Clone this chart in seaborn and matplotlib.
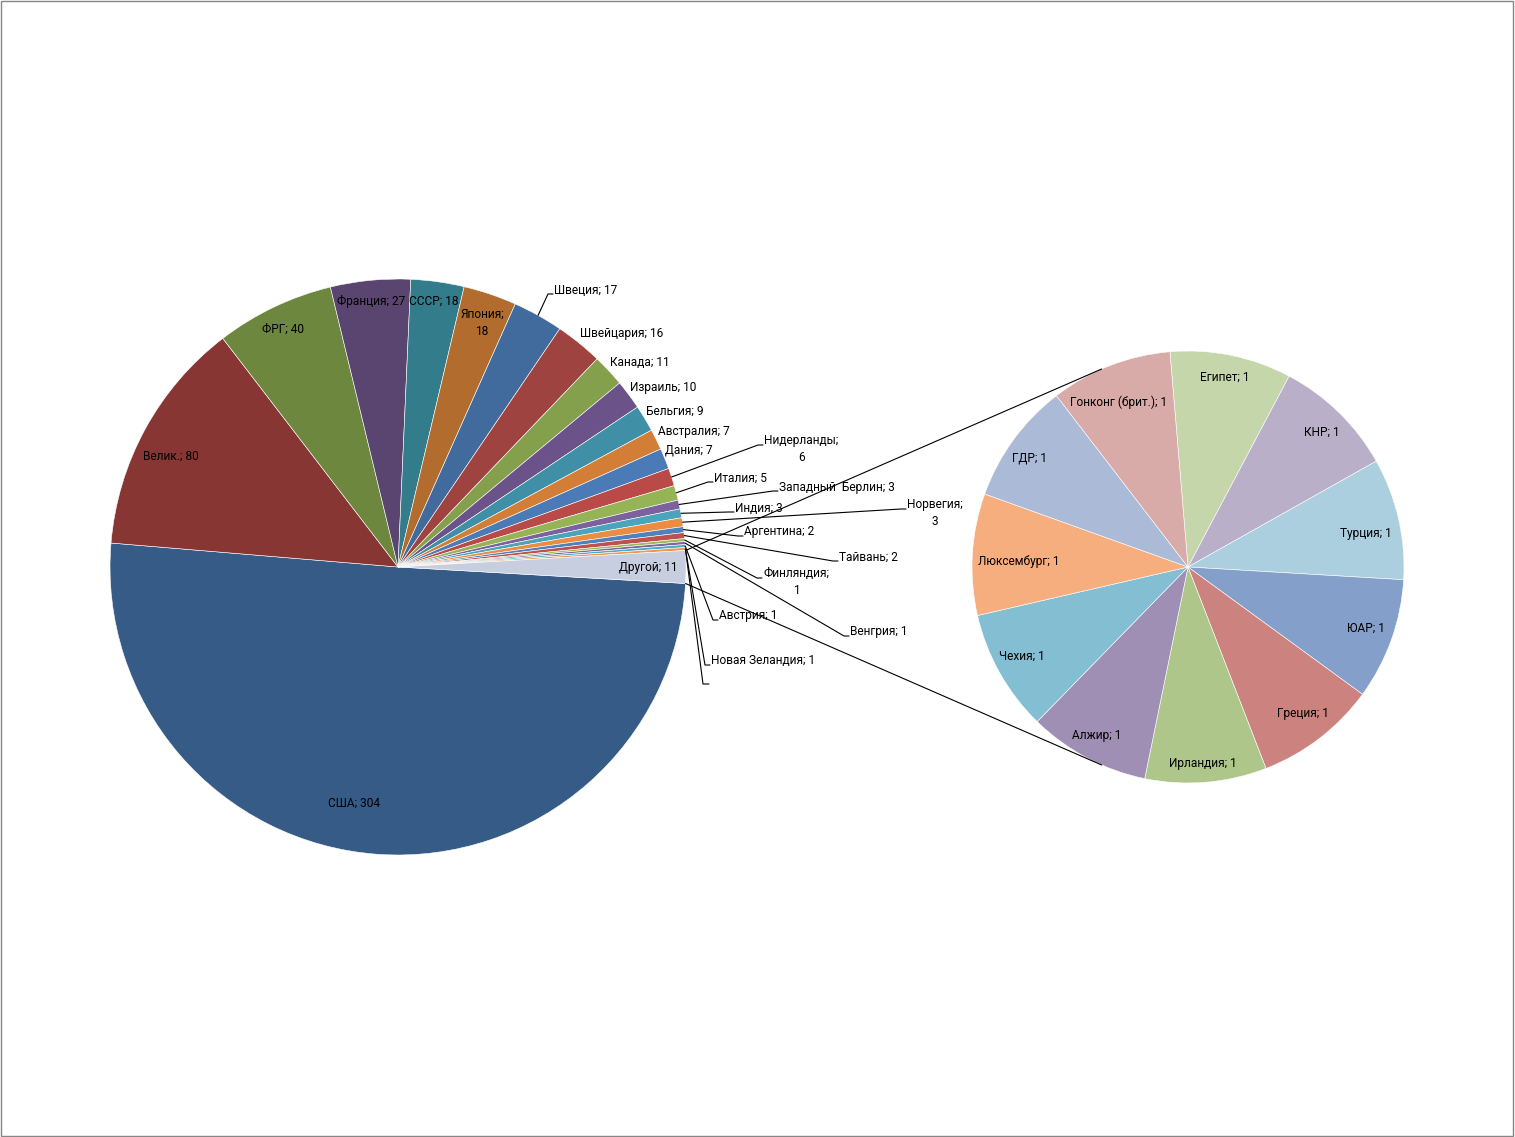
import numpy as np
import matplotlib
matplotlib.use("Agg")
import matplotlib.pyplot as plt
import seaborn as sns

# main pie data
main_names = ['США', 'Велик.', 'ФРГ', 'Франция', 'СССР', 'Япония', 'Швеция', 'Швейцария',
              'Канада', 'Израиль', 'Бельгия', 'Австралия', 'Дания', 'Нидерланды', 'Италия',
              'Западный  Берлин', 'Индия', 'Норвегия', 'Аргентина', 'Тайвань', 'Финляндия',
              'Венгрия', 'Австрия', 'Новая Зеландия', 'Другой']
main_values = [304, 80, 40, 27, 18, 18, 17, 16, 11, 10, 9, 7, 7, 6, 5, 3, 3, 3, 2, 2, 1, 1, 1, 1, 11]

# secondary pie ("Другой" split)
other_names = ['Египет', 'КНР', 'Турция', 'ЮАР', 'Греция', 'Ирландия', 'Алжир', 'Чехия',
               'Люксембург', 'ГДР', 'Гонконг (брит.)']
other_values = [1, 1, 1, 1, 1, 1, 1, 1, 1, 1, 1]

main_colors = ['#365B86', '#873634', '#6D883E', '#5A4570', '#327C8C', '#B26C2E',
               '#426B9D', '#9F4341', '#84A04C', '#6B5289', '#3F90A6', '#D27E37',
               '#4B7BB6', '#B94A47', '#95B456', '#7D619D', '#49A4BC', '#EB8D41',
               '#4F81BD', '#C0504D', '#9BBB59', '#8064A2', '#4BACC6', '#F79646',
               '#C6CEE0']
other_colors = ['#C5D6AB', '#B9AFC9', '#ABCFDE', '#849FCA', '#CC827F', '#AFC68A',
                '#9F8FB4', '#83BED2', '#F6AE7F', '#ABBAD6', '#D8AAA8']

W, H = 1515, 1137
main_c, main_r = (398, H - 567), 288
sec_c, sec_r = (1188, H - 567), 216

# label layout (image px): name -> (x, y, mode); mode 'c' centred inside, 'l' left-anchored outside,
# 'L' left-anchored with leader line
main_lab = {
    'США': (354, 803, 'c'), 'Велик.': (171, 456, 'c'), 'ФРГ': (283, 329, 'c'),
    'Франция': (371, 301, 'c'), 'СССР': (434, 301, 'c'), 'Япония': (482, 315, 'c2'),
    'Швеция': (554, 290, 'L'), 'Швейцария': (580, 334, 'l'), 'Канада': (610, 362, 'l'),
    'Израиль': (630, 387, 'l'), 'Бельгия': (646, 411, 'l'), 'Австралия': (658, 432, 'l'),
    'Дания': (665, 450, 'l'), 'Нидерланды': (764, 441, 'L2'), 'Италия': (714, 478, 'L'),
    'Западный  Берлин': (779, 487, 'L'), 'Индия': (735, 508, 'L'), 'Норвегия': (907, 505, 'L2'),
    'Аргентина': (744, 532, 'L'), 'Тайвань': (839, 557, 'L'), 'Финляндия': (763, 574, 'L2'),
    'Венгрия': (850, 632, 'L'), 'Австрия': (719, 616, 'L'), 'Новая Зеландия': (711, 661, 'L'),
    'Другой': (648, 568, 'c'),
}
other_lab = [(1225, 377), (1322, 432), (1366, 533), (1366, 628), (1303, 714), (1203, 763),
             (1097, 735), (1022, 656), (1019, 561), (1030, 458), (1119, 402)]

sns.set_theme(style="white")
plt.rcParams['font.family'] = ['Roboto', 'DejaVu Sans']
FS = 8.6

fig = plt.figure(figsize=(W / 100, H / 100), dpi=100)
ax = fig.add_axes([0, 0, 1, 1])

total = sum(main_values)
start = -main_values[-1] / total * 180
wedges, _ = ax.pie(main_values, colors=main_colors, startangle=start, counterclock=False,
                   center=main_c, radius=main_r,
                   wedgeprops=dict(edgecolor='white', linewidth=0.4))
ax.pie(other_values, colors=other_colors, startangle=94.8, counterclock=False,
       center=sec_c, radius=sec_r, wedgeprops=dict(edgecolor='white', linewidth=0.4))


def edge_point(w, frac=1.0):
    a = np.deg2rad((w.theta1 + w.theta2) / 2)
    return main_c[0] + main_r * frac * np.cos(a), main_c[1] + main_r * frac * np.sin(a)


for name, val, w in zip(main_names, main_values, wedges):
    x, y, mode = main_lab[name]
    two = mode.endswith('2')
    txt = f'{name};\n{val}' if two else f'{name}; {val}'
    if mode.startswith('c'):
        yc = y + 8 if two else y
        ax.text(x, H - yc, txt, ha='center', va='center', fontsize=FS,
                multialignment='center', linespacing=1.35, color='black')
    else:
        yc = y + 8 if two else y
        ax.text(x, H - yc, txt, ha='left', va='center', fontsize=FS,
                multialignment='center', linespacing=1.35, color='black')
        if mode.startswith('L'):
            ex, ey = edge_point(w)
            ax.plot([ex, x - 6, x - 1], [ey, H - y - 4, H - y - 4], color='black', lw=0.8)

# stray empty leader (as in the original Excel output)
ex, ey = edge_point(wedges[-2])
ax.plot([ex, 703, 709], [ey, H - 684, H - 684], color='black', lw=0.8)

for name, val, (x, y) in zip(other_names, other_values, other_lab):
    ax.text(x, H - y, f'{name}; {val}', ha='center', va='center', fontsize=FS, color='black')

# connector lines: from the edges of "Другой" tangent to the secondary pie
half = np.deg2rad(main_values[-1] / total * 180)
d_c = np.hypot(sec_c[0] - main_c[0], sec_c[1] - main_c[1])
for sgn in (1, -1):
    px = main_c[0] + main_r * np.cos(sgn * half)
    py = main_c[1] + main_r * np.sin(sgn * half)
    dx, dy = px - sec_c[0], py - sec_c[1]
    d = np.hypot(dx, dy)
    base = np.arctan2(dy, dx)
    alpha = np.arccos(sec_r / d)
    t = base - sgn * alpha
    tx, ty = sec_c[0] + sec_r * np.cos(t), sec_c[1] + sec_r * np.sin(t)
    ax.plot([px, tx], [py, ty], color='black', lw=0.8)

ax.set_xlim(0, W)
ax.set_ylim(0, H)
ax.set_aspect('equal')
ax.axis('off')

# chart area frame
fig.patches.append(plt.Rectangle((0.5 / W, 1.5 / H), (W - 2.5) / W, (H - 2.5) / H,
                                 transform=fig.transFigure, fill=False,
                                 edgecolor='#868686', lw=1.0))

fig.savefig('out.png', dpi=100, facecolor='white')
